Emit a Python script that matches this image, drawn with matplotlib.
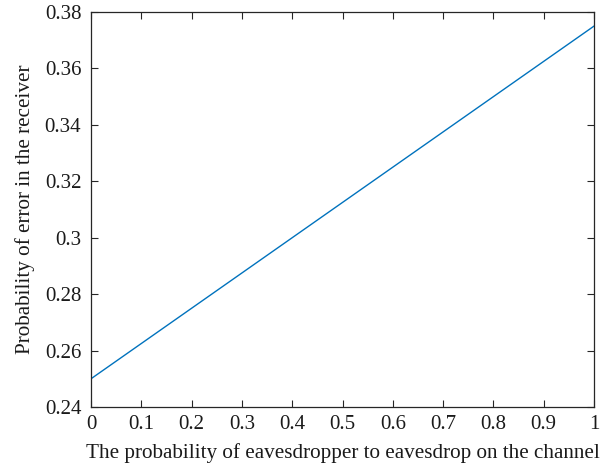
import matplotlib
matplotlib.use("Agg")
import matplotlib.pyplot as plt

# data
p_eve = [0, 0.2, 0.4, 0.6, 0.8, 1.0]
p_err = [0.25, 0.275, 0.30, 0.325, 0.35, 0.375]

xticks = [0, 0.1, 0.2, 0.3, 0.4, 0.5, 0.6, 0.7, 0.8, 0.9, 1]
xtick_labels = ["0", "0.1", "0.2", "0.3", "0.4", "0.5", "0.6", "0.7", "0.8", "0.9", "1"]
yticks = [0.24, 0.26, 0.28, 0.30, 0.32, 0.34, 0.36, 0.38]
ytick_labels = ["0.24", "0.26", "0.28", "0.3", "0.32", "0.34", "0.36", "0.38"]

plt.rcParams['font.family'] = ['Liberation Serif', 'DejaVu Serif']

fig = plt.figure(figsize=(6.15, 4.71), dpi=100)
ax = fig.add_axes([91/615, 1 - 407/471, (594-91)/615, (407-12)/471])

ax.plot(p_eve, p_err, color='#0072BD', lw=1.0)

ax.set_xlim(0, 1)
ax.set_ylim(0.24, 0.38)
ax.set_xticks(xticks)
ax.set_xticklabels(xtick_labels)
ax.set_yticks(yticks)
ax.set_yticklabels(ytick_labels)
ax.tick_params(direction='in', top=True, right=True, labelsize=15, length=5, width=0.8, colors='#262626')
ax.tick_params(axis='x', pad=6)
ax.tick_params(axis='y', pad=7)
for tl in ax.get_xticklabels() + ax.get_yticklabels():
    tl.set_color('#1a1a1a')
for s in ax.spines.values():
    s.set_linewidth(0.9)
    s.set_color('#262626')

ax.set_xlabel("The probability of eavesdropper to eavesdrop on the channel", fontsize=15.2, color='#1a1a1a', labelpad=6)
ax.set_ylabel("Probability of error in the receiver", fontsize=15.2, color='#1a1a1a', labelpad=7)

fig.savefig("out.png", dpi=100)
